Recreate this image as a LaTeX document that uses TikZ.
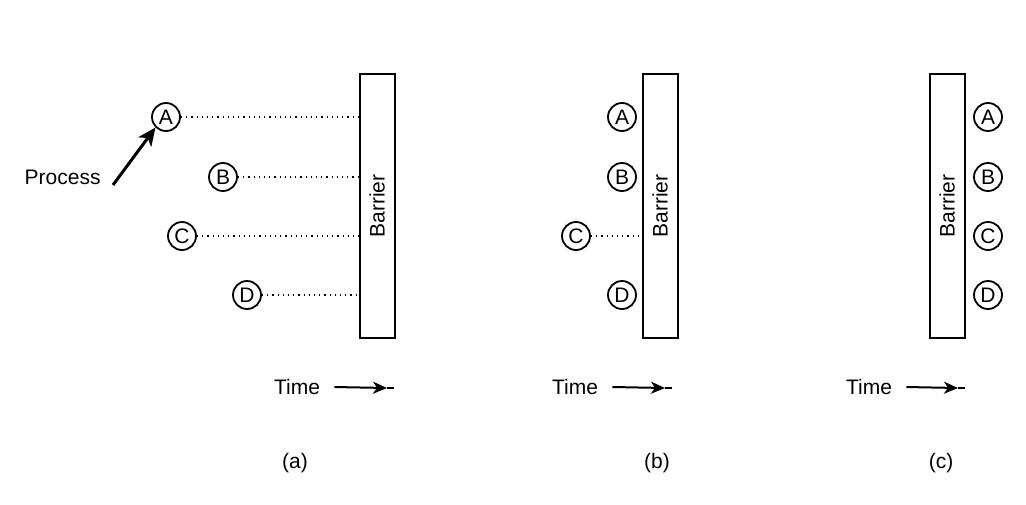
\documentclass[tikz,border=0pt]{standalone}
\usepackage{fontspec}
\setmainfont{Liberation Sans}
\usetikzlibrary{positioning,arrows.meta}
\tikzset{
  proc/.style={circle, draw, line width=0.9pt, minimum size=14pt, inner sep=0pt,
               font=\fontsize{10.5}{12}\selectfont},
  barrierbox/.style={draw, line width=1pt, minimum width=17.5pt, minimum height=132pt,
               inner sep=0pt},
  wait/.style={dotted, line width=0.6pt},
  lbl/.style={font=\fontsize{10.5}{12}\selectfont, inner sep=0pt},
  timeline/.style={line width=1pt},
  timehead/.style={line width=1pt, -{Stealth[length=7pt,width=6pt,inset=2pt]}},
  >=Stealth,
}
\begin{document}
\begin{tikzpicture}[x=0.5pt, y=-0.5pt]
\useasboundingbox (0,0) rectangle (1026,504);

% (a) processes approaching the barrier
\node[barrierbox] (bara) at (377,206) {};
\node[lbl, rotate=90] (bara-t) at (bara.center) {Barrier};
\node[proc] (aA) at (166,117) {A};
\node[proc] (aB) at (223,177) {B};
\node[proc] (aC) at (182,236) {C};
\node[proc] (aD) at (247,295) {D};
\foreach \p in {aA,aB,aC,aD}
  \draw[wait] (\p.east) -- (\p -| bara.west);
\node[lbl, anchor=east] (proc) at (101,177) {Process};
\draw[line width=1.5pt, -{Stealth[length=9pt,width=8pt,inset=2.5pt]}]
  (proc.east) ++(6pt,-4pt) -- (aA.south west);
\node[lbl] (ta) at (297,387) {Time};
\coordinate (tah) at (387,388);
\coordinate (tae) at (394,388);
\draw[timehead] (ta.east) ++(7pt,0) -- (tah);
\draw[timeline] (tah) -- (tae);
\node[lbl] (capa) at (295,463) {(a)};

% (b) all but C blocked at the barrier
\node[barrierbox] (barb) at (660,206) {};
\node[lbl, rotate=90] (barb-t) at (barb.center) {Barrier};
\node[proc] (bA) at (622,117) {A};
\node[proc] (bB) at (622,177) {B};
\node[proc] (bC) at (576,236) {C};
\node[proc] (bD) at (622,295) {D};
\draw[wait] (bC.east) -- (bC -| barb.west);
\node[lbl] (tb) at (575,387) {Time};
\coordinate (tbh) at (665,388);
\coordinate (tbe) at (672,388);
\draw[timehead] (tb.east) ++(7pt,0) -- (tbh);
\draw[timeline] (tbh) -- (tbe);
\node[lbl] (capb) at (657,463) {(b)};

% (c) everyone through
\node[barrierbox] (barc) at (947,206) {};
\node[lbl, rotate=90] (barc-t) at (barc.center) {Barrier};
\node[proc] (cA) at (988,117) {A};
\node[proc] (cB) at (988,177) {B};
\node[proc] (cC) at (988,236) {C};
\node[proc] (cD) at (988,295) {D};
\node[lbl] (tc) at (869,387) {Time};
\coordinate (tch) at (958,388);
\coordinate (tce) at (965,388);
\draw[timehead] (tc.east) ++(7pt,0) -- (tch);
\draw[timeline] (tch) -- (tce);
\node[lbl] (capc) at (941,463) {(c)};
\end{tikzpicture}
\end{document}
